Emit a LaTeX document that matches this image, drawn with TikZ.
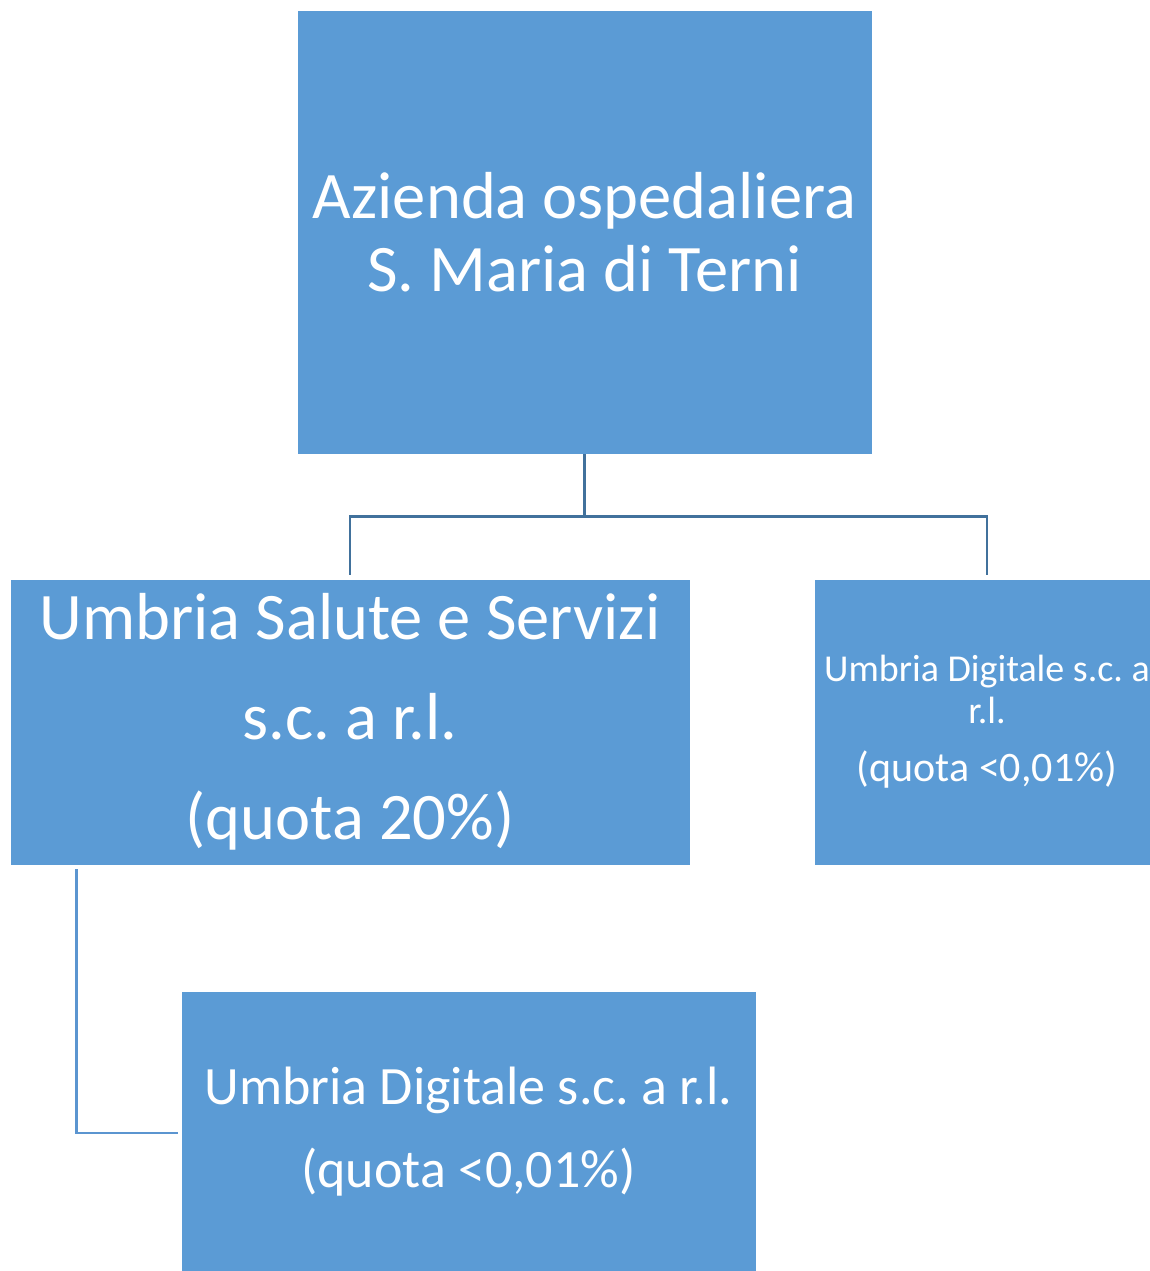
\documentclass[tikz,border=0pt]{standalone}
\usepackage{fontspec}
\setmainfont{Carlito}
\usetikzlibrary{positioning}
\definecolor{boxblue}{HTML}{5B9BD5}
\definecolor{linkdark}{HTML}{41719C}
\definecolor{linklight}{HTML}{5B95D0}
\tikzset{
unit/.style={fill=boxblue, draw=white, line width=0.8pt, text=white, align=center, inner sep=0pt},
link/.style={draw=linkdark, line width=2.5pt},
}
\frenchspacing

\begin{document}
\begin{tikzpicture}[x=1pt,y=-1pt]
\useasboundingbox (0,0) rectangle (1149,1271);

\node[unit, minimum width=575pt, minimum height=444pt,
font=\fontsize{66.5}{73}\selectfont] (azienda) at (584.5,232)
{Azienda ospedaliera\\S. Maria di Terni};

\node[unit, minimum width=680pt, minimum height=286pt,
font=\fontsize{66.5}{100}\selectfont] (salute) at (350,722)
{Umbria Salute e Servizi\\s.c. a r.l.\\(quota 20\%)};

\node[unit, minimum width=346pt, minimum height=286pt,
font=\fontsize{38}{42}\selectfont] (digitale) at (987,722)
{Umbria Digitale s.c. a\\r.l.\\[16pt]{\fontsize{42}{42}\selectfont(quota <0,01\%)}};

\node[unit, minimum width=575pt, minimum height=281pt,
font=\fontsize{54}{83}\selectfont] (digitalebis) at (468.5,1131.5)
{Umbria Digitale s.c. a r.l.\\(quota <0,01\%)};

\draw[link] (azienda.south) -- ++(0,62) -| ([yshift=4pt]salute.north);
\draw[link] (azienda.south) -- ++(0,62) -| ([yshift=4pt]digitale.north);
\draw[link, draw=linklight] ([xshift=67pt,yshift=-4pt]salute.south west)
|- ([xshift=-3pt,yshift=-1.5pt]digitalebis.west);

\end{tikzpicture}
\end{document}
